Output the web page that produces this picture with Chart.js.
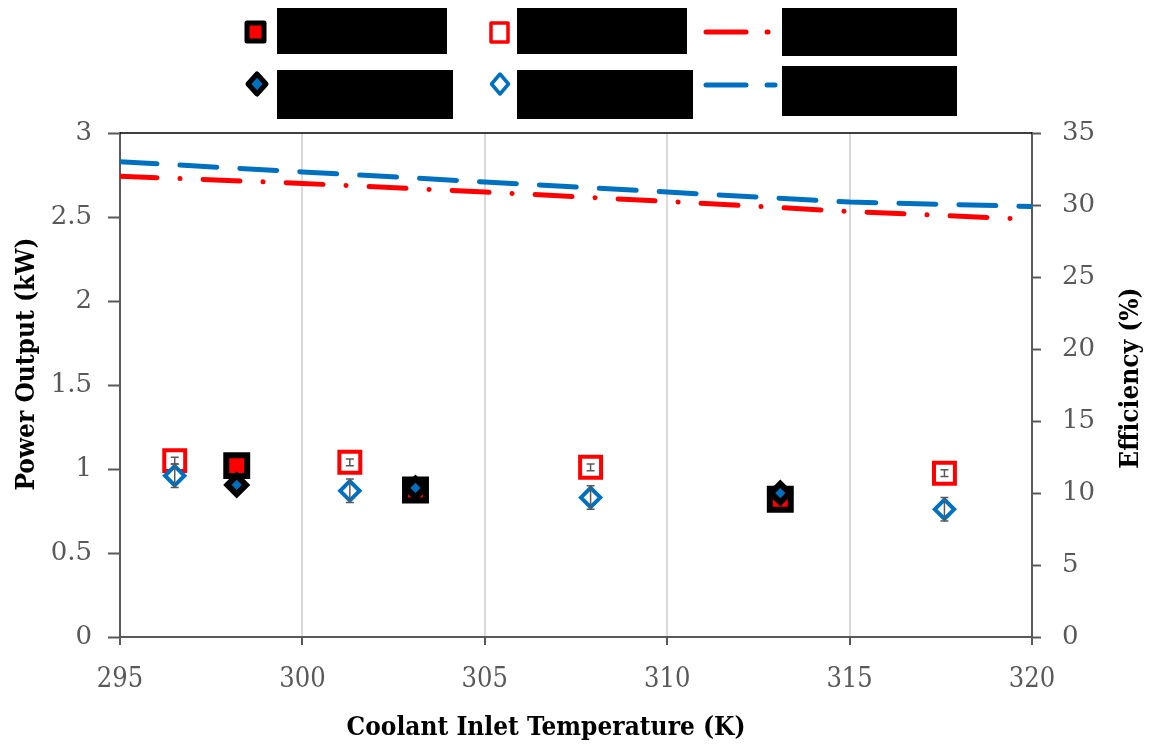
<!DOCTYPE html>
<html>
<head>
<meta charset="utf-8">
<script src="https://cdn.jsdelivr.net/npm/chart.js@4"></script>
<style>
html, body { margin: 0; padding: 0; background: #fff; }
</style>
</head>
<body>
<canvas id="myChart" width="1156" height="748"></canvas>
<script>
// Datos
const tempA = [296.5, 301.3, 307.9, 317.6];        // puntos huecos
const powerRedOpen = [1.05, 1.04, 1.01, 0.975];
const errRedOpen = [0.02, 0.02, 0.02, 0.02];
const powerBlueOpen = [0.96, 0.87, 0.83, 0.76];
const errBlueOpen = [0.07, 0.07, 0.07, 0.07];

const tempB = [298.2, 303.1, 313.1];               // puntos rellenos
const powerRedFilled = [1.02, 0.875, 0.82];
const powerBlueFilled = [0.905, 0.887, 0.857];

const tempLine = [295, 300, 305, 310, 315, 320];
const effRed = [32.0, 31.5, 30.9, 30.25, 29.55, 29.0];
const effBlue = [33.0, 32.3, 31.6, 30.9, 30.2, 29.9];

const xTicks = [295, 300, 305, 310, 315, 320];
const xTitle = 'Coolant Inlet Temperature (K)';
const yTitleLeft = 'Power Output (kW)';
const yTitleRight = 'Efficiency (%)';

const toXY = (xs, ys) => xs.map((x, i) => ({ x: x, y: ys[i] }));

const GRAY = '#595959';
const RED = '#ff0000';
const BLUE = '#0070c0';
const yTickFont = { family: "'DejaVu Serif'", size: 26 };
const xTickFont = { family: "'DejaVu Serif Condensed', 'DejaVu Serif'", size: 27 };
const titleCss = "bold 26px 'DejaVu Serif Condensed', 'DejaVu Serif'";

// barras de error
const errorBars = {
    id: 'errorBars',
    afterDatasetsDraw(chart) {
        const ctx = chart.ctx;
        const xs = chart.scales.x, ys = chart.scales.y;
        ctx.save();
        ctx.strokeStyle = GRAY;
        ctx.lineWidth = 1.5;
        chart.data.datasets.forEach(ds => {
            if (!ds.errors) return;
            ds.data.forEach((p, i) => {
                const px = xs.getPixelForValue(p.x);
                const top = ys.getPixelForValue(p.y + ds.errors[i]);
                const bot = ys.getPixelForValue(p.y - ds.errors[i]);
                ctx.beginPath();
                ctx.moveTo(px, top); ctx.lineTo(px, bot);
                ctx.moveTo(px - 4, top); ctx.lineTo(px + 4, top);
                ctx.moveTo(px - 4, bot); ctx.lineTo(px + 4, bot);
                ctx.stroke();
            });
        });
        ctx.restore();
    }
};

// borde superior, títulos de ejes y leyenda (etiquetas tapadas en el original)
const extras = {
    id: 'extras',
    afterDraw(chart) {
        const ctx = chart.ctx;
        const a = chart.chartArea;
        ctx.save();
        ctx.strokeStyle = '#000';
        ctx.lineWidth = 1.5;
        ctx.beginPath();
        ctx.moveTo(a.left, a.top); ctx.lineTo(a.right, a.top);
        ctx.stroke();

        // títulos
        ctx.fillStyle = '#000';
        ctx.font = titleCss;
        ctx.textAlign = 'center';
        ctx.textBaseline = 'middle';
        ctx.fillText(xTitle, 546, 728);
        ctx.save();
        ctx.translate(27, 364); ctx.rotate(-Math.PI / 2);
        ctx.fillText(yTitleLeft, 0, 0);
        ctx.restore();
        ctx.save();
        ctx.translate(1131, 378); ctx.rotate(-Math.PI / 2);
        ctx.fillText(yTitleRight, 0, 0);
        ctx.restore();

        ctx.fillRect(277, 8, 170, 46);
        ctx.fillRect(517, 8, 170, 46);
        ctx.fillRect(782, 8, 175, 48);
        ctx.fillRect(277, 70, 176, 49);
        ctx.fillRect(517, 70, 176, 49);
        ctx.fillRect(782, 66, 175, 50);

        // cuadrado negro relleno rojo
        ctx.lineJoin = 'round';
        ctx.fillStyle = RED; ctx.strokeStyle = '#000'; ctx.lineWidth = 5;
        ctx.fillRect(247, 23, 17, 18); ctx.strokeRect(247, 23, 17, 18);
        // cuadrado rojo hueco
        ctx.lineWidth = 3.5; ctx.strokeStyle = RED;
        ctx.strokeRect(491, 23, 17, 19);
        // rombos
        const diamond = (cx, cy, rx, ry) => {
            ctx.beginPath();
            ctx.moveTo(cx, cy - ry); ctx.lineTo(cx + rx, cy);
            ctx.lineTo(cx, cy + ry); ctx.lineTo(cx - rx, cy);
            ctx.closePath();
        };
        diamond(257, 84, 9, 10);
        ctx.fillStyle = BLUE; ctx.fill();
        ctx.strokeStyle = '#000'; ctx.lineWidth = 5; ctx.stroke();
        diamond(500, 84, 8.5, 10);
        ctx.strokeStyle = BLUE; ctx.lineWidth = 3.5; ctx.stroke();

        // líneas de la leyenda
        ctx.lineCap = 'round';
        ctx.lineWidth = 5;
        ctx.strokeStyle = RED;
        ctx.beginPath(); ctx.moveTo(706, 32); ctx.lineTo(746, 32); ctx.stroke();
        ctx.beginPath(); ctx.moveTo(767, 32); ctx.lineTo(768, 32); ctx.stroke();
        ctx.strokeStyle = BLUE;
        ctx.beginPath(); ctx.moveTo(706, 85); ctx.lineTo(746, 85); ctx.stroke();
        ctx.beginPath(); ctx.moveTo(767, 85); ctx.lineTo(775, 85); ctx.stroke();
        ctx.restore();
    }
};

const ctx = document.getElementById('myChart').getContext('2d');

const chart = new Chart(ctx, {
    type: 'scatter',
    data: {
        datasets: [
            {
                label: 'A',
                data: toXY(tempB, powerBlueFilled),
                pointStyle: 'rectRot', radius: 9.3, hoverRadius: 9.3,
                backgroundColor: BLUE, borderColor: '#000', borderWidth: 6,
                order: 1
            },
            {
                label: 'B',
                data: toXY(tempB, powerRedFilled),
                pointStyle: 'rect', radius: 14.8, hoverRadius: 14.8,
                backgroundColor: RED, borderColor: '#000', borderWidth: 6,
                order: 2
            },
            {
                label: 'C',
                data: toXY(tempA, powerBlueOpen),
                errors: errBlueOpen,
                pointStyle: 'rectRot', radius: 9.7, hoverRadius: 9.7,
                backgroundColor: '#fff', borderColor: BLUE, borderWidth: 4,
                order: 3
            },
            {
                label: 'D',
                data: toXY(tempA, powerRedOpen),
                errors: errRedOpen,
                pointStyle: 'rect', radius: 14.8, hoverRadius: 14.8,
                backgroundColor: '#fff', borderColor: RED, borderWidth: 4,
                order: 4
            },
            {
                label: 'E',
                data: toXY(tempLine, effRed),
                yAxisID: 'y2', showLine: true, pointRadius: 0,
                borderColor: RED, borderWidth: 5,
                borderDash: [37, 23, 0.1, 23], borderCapStyle: 'round',
                order: 5
            },
            {
                label: 'F',
                data: toXY(tempLine, effBlue),
                yAxisID: 'y2', showLine: true, pointRadius: 0,
                borderColor: BLUE, borderWidth: 5,
                borderDash: [37, 23], borderCapStyle: 'round',
                order: 6
            }
        ]
    },
    options: {
        responsive: false,
        animation: false,
        events: [],
        layout: { padding: { top: 133 } },
        plugins: {
            legend: { display: false },
            tooltip: { enabled: false }
        },
        scales: {
            x: {
                type: 'linear',
                min: 295, max: 320,
                afterBuildTicks: s => { s.ticks = xTicks.map(v => ({ value: v })); },
                afterFit: s => { s.height = 111; },
                grid: { color: '#d9d9d9', lineWidth: 2, tickColor: GRAY, tickLength: 8, tickWidth: 2 },
                border: { color: GRAY, width: 2 },
                ticks: { color: GRAY, font: xTickFont, padding: 19, maxRotation: 0, callback: v => String(v) }
            },
            y: {
                position: 'left',
                min: 0, max: 3,
                afterFit: s => { s.width = 120; },
                grid: { drawOnChartArea: false, tickColor: GRAY, tickLength: 12, tickWidth: 2 },
                border: { color: GRAY, width: 2 },
                ticks: { stepSize: 0.5, color: GRAY, font: yTickFont, padding: 16, callback: v => String(v) }
            },
            y2: {
                position: 'right',
                min: 0, max: 35,
                afterFit: s => { s.width = 124; },
                grid: { drawOnChartArea: false, tickColor: GRAY, tickLength: 9, tickWidth: 2 },
                border: { color: GRAY, width: 2 },
                ticks: { stepSize: 5, color: GRAY, font: yTickFont, padding: 21, callback: v => String(v) }
            }
        }
    },
    plugins: [errorBars, extras]
});
</script>
</body>
</html>
